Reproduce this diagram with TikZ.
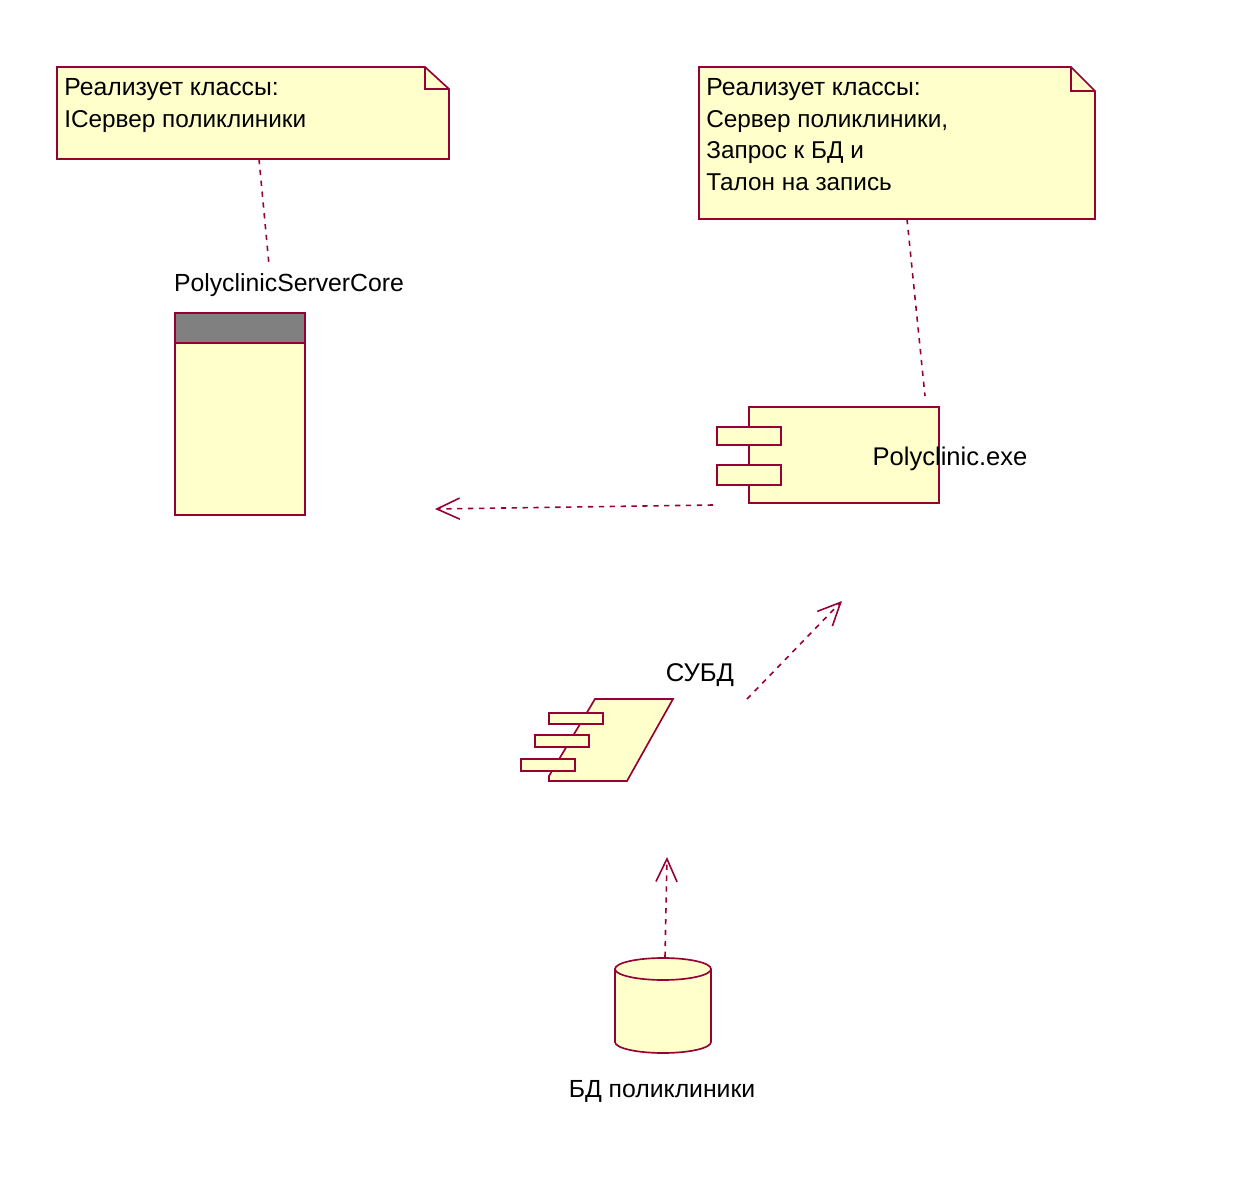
\documentclass[tikz,border=0pt]{standalone}
\usepackage{fontspec}
\setmainfont{Liberation Sans}
\usetikzlibrary{arrows.meta}
\definecolor{umlline}{RGB}{150,0,50}
\definecolor{umlfill}{RGB}{255,255,204}
\definecolor{umlgray}{RGB}{128,128,128}
\tikzset{
  x=0.02cm,y=-0.02cm,
  umlshape/.style={draw=umlline,line width=0.95pt,fill=umlfill,line join=miter},
  boxnode/.style={draw=umlline,line width=0.95pt,fill=umlfill,rectangle,inner sep=0pt,anchor=north west},
  txt/.style={inner sep=0pt,font=\fontsize{14.1}{18.1}\selectfont,text=black},
  notetxt/.style={inner sep=0pt,font=\fontsize{13.85}{18.1}\selectfont,text=black,anchor=north west,align=left},
  dep/.style={draw=umlline,line width=0.9pt,dash pattern=on 3pt off 3.2pt},
  deparrow/.style={dep,-{Straight Barb[length=13pt,width=12pt,line width=0.9pt]}},
}
\begin{document}
\begin{tikzpicture}
\useasboundingbox (0,0) rectangle (1242,1182);
% notes
\draw[umlshape] (57,67) -- (425,67) -- (449,89) -- (449,159) -- (57,159) -- cycle;
\draw[draw=umlline,line width=0.8pt] (425,67) -- (425,89) -- (449,89);
\draw[umlshape] (699,67) -- (1071,67) -- (1095,91) -- (1095,219) -- (699,219) -- cycle;
\draw[draw=umlline,line width=0.8pt] (1071,67) -- (1071,91) -- (1095,91);
\node[notetxt] (noteA) at (64,78) {{\fontsize{14.1}{18.1}\selectfont Реализует классы:}\\IСервер поликлиники};
\node[notetxt] (noteB) at (706,78) {{\fontsize{14.1}{18.1}\selectfont Реализует классы:}\\Сервер поликлиники,\\Запрос к БД и\\Талон на запись};
\coordinate (noteAb) at (259,159);
\coordinate (noteBb) at (907,219);
% server core
\node[boxnode,minimum width=2.6cm,minimum height=4.04cm] (core) at (174,312) {};
\node[boxnode,fill=umlgray,minimum width=2.6cm,minimum height=0.6cm] (corehead) at (174,312) {};
\node[txt] (coreLabel) at (289,285) {PolyclinicServerCore};
\coordinate (coreEnd) at (269,265);
% component exe
\node[boxnode,minimum width=3.8cm,minimum height=1.92cm] (exe) at (748,406) {};
\node[boxnode,minimum width=1.28cm,minimum height=0.36cm] (exeA) at (716,426) {};
\node[boxnode,minimum width=1.28cm,minimum height=0.4cm] (exeB) at (716,464) {};
\node[txt,font=\fontsize{14.55}{18.1}\selectfont] (exeLabel) at (950,459) {Polyclinic.exe};
\coordinate (exeTop) at (925,396);
\coordinate (exeLeft) at (713,505);
\coordinate (coreArrow) at (435,509);
% subd
\coordinate (subdTR) at (673,699);
\draw[umlshape] (595,699) -- (subdTR) -- (627,781) -- (549,781) -- (549,776) -- cycle;
\node[boxnode,minimum width=1.08cm,minimum height=0.22cm] (subdA) at (548,712) {};
\node[boxnode,minimum width=1.08cm,minimum height=0.24cm] (subdB) at (534,734) {};
\node[boxnode,minimum width=1.08cm,minimum height=0.24cm] (subdC) at (520,758) {};
\node[txt,font=\fontsize{14.6}{18.1}\selectfont] (subdLabel) at (700,675) {СУБД};
\coordinate (subdOut) at (747,699);
\coordinate (exeIn) at (842,601);
% database
\draw[umlshape] (615,969) -- (615,1042) arc[start angle=180,end angle=0,x radius=48,y radius=11] -- (711,969) arc[start angle=0,end angle=-180,x radius=48,y radius=11] -- cycle;
\draw[draw=umlline,line width=0.95pt] (615,969) arc[start angle=180,end angle=0,x radius=48,y radius=11];
\node[txt] (dbLabel) at (662,1091) {БД поликлиники};
\coordinate (dbTop) at (665,957);
\coordinate (subdIn) at (667,857);
% connectors
\draw[dep] (noteAb) -- (coreEnd);
\draw[dep] (noteBb) -- (exeTop);
\draw[deparrow] (exeLeft) -- (coreArrow);
\draw[deparrow] (subdOut) -- (exeIn);
\draw[deparrow] (dbTop) -- (subdIn);
\end{tikzpicture}
\end{document}
